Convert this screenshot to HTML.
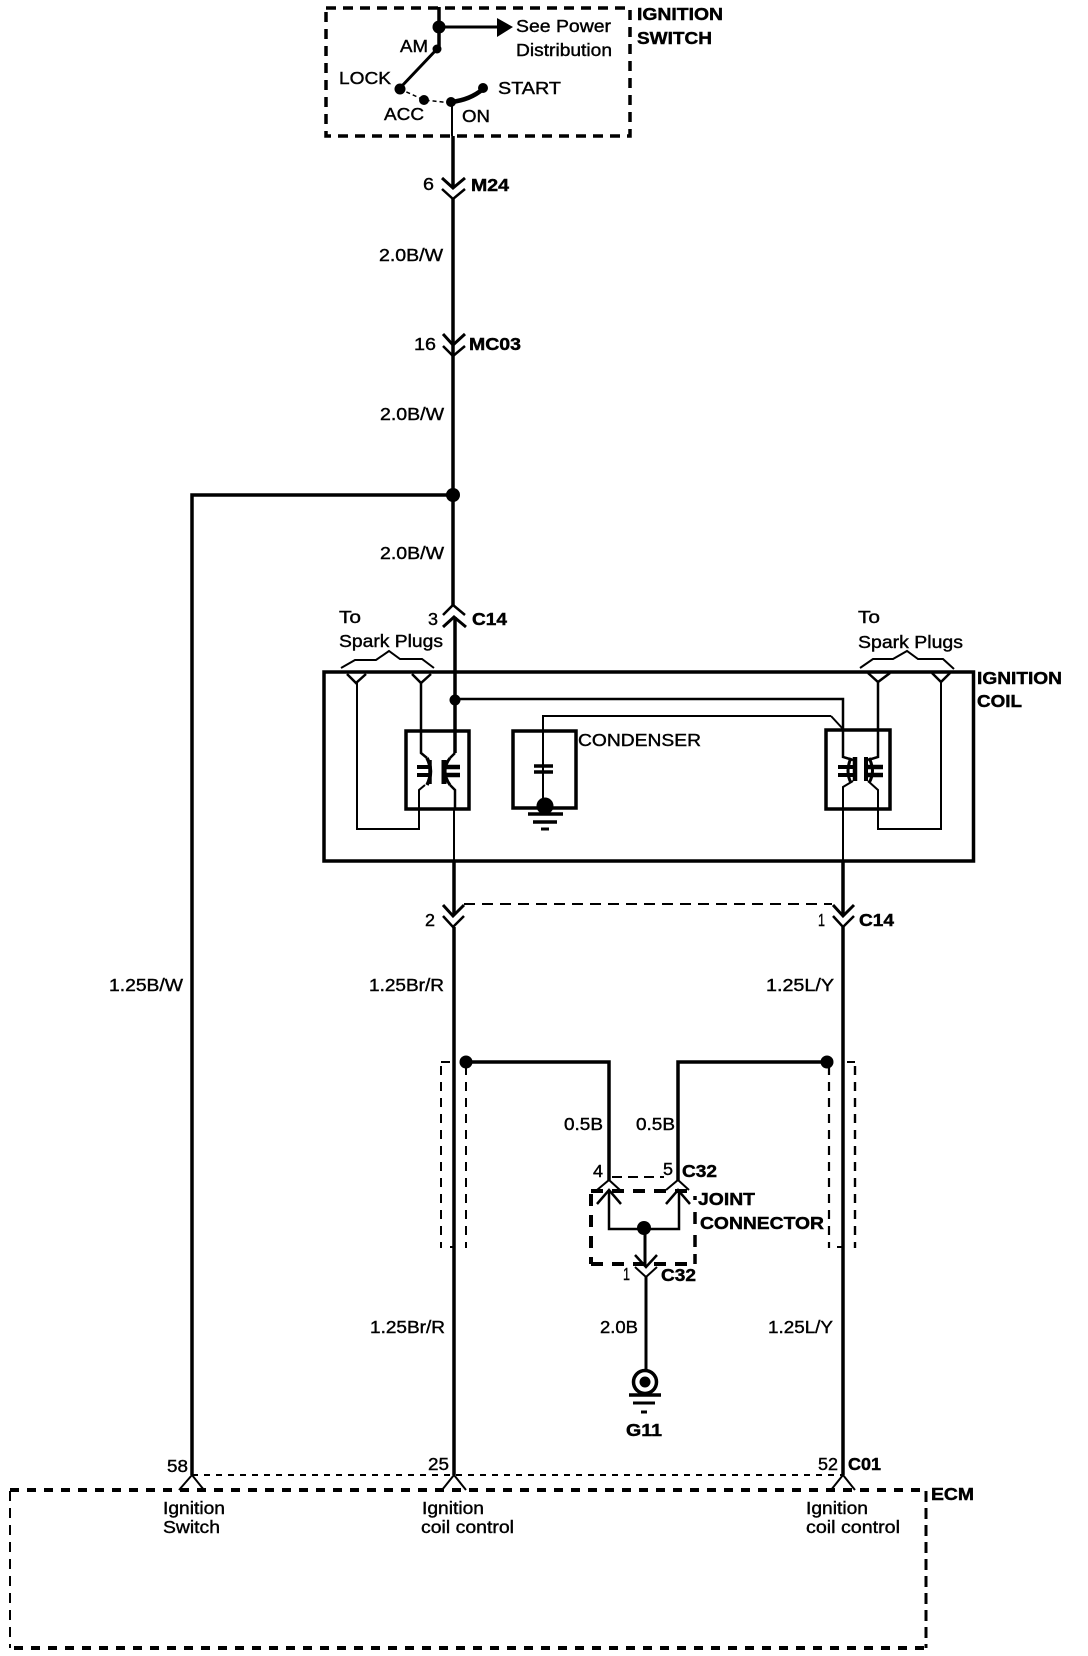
<!DOCTYPE html>
<html>
<head>
<meta charset="utf-8">
<title>Ignition circuit diagram</title>
<style>
html,body{margin:0;padding:0;background:#fff;width:1088px;height:1656px;overflow:hidden}
svg{display:block}
text{font-family:"Liberation Sans",sans-serif;font-size:17.5px;fill:#000;stroke:#000;stroke-width:.4}
text.b{font-weight:bold;stroke-width:.45}
.w{fill:none;stroke:#000;stroke-linejoin:miter}
</style>
</head>
<body>
<svg width="1088" height="1656" viewBox="0 0 1088 1656" xmlns="http://www.w3.org/2000/svg">
<rect width="1088" height="1656" fill="#fff"/>

<!-- Ignition switch box -->
<path class="w" stroke-width="3.5" stroke-dasharray="10 7" d="M326 8H630V136H326Z"/>
<path class="w" stroke-width="3.5" d="M439 7V50"/>
<circle cx="439" cy="27" r="6.5"/>
<path class="w" stroke-width="3" d="M439 27H498"/>
<path d="M497 18L513 27L497 37Z"/>
<circle cx="437" cy="49" r="4.5"/>
<path class="w" stroke-width="3" d="M437 49L400 88"/>
<circle cx="400" cy="89" r="5.5"/>
<path class="w" stroke-width="1.5" stroke-dasharray="4 3" d="M400 89L424 100L452 103"/>
<circle cx="424" cy="100" r="5"/>
<circle cx="451" cy="102" r="5"/>
<path class="w" stroke-width="4.500" d="M451 102Q470 100 483 89"/>
<circle cx="483" cy="88" r="5"/>
<path class="w" stroke-width="2" d="M452 103V136"/>
<text x="516" y="32" textLength="95" lengthAdjust="spacingAndGlyphs">See Power</text>
<text x="516" y="56" textLength="96" lengthAdjust="spacingAndGlyphs">Distribution</text>
<text x="400" y="52" textLength="28" lengthAdjust="spacingAndGlyphs">AM</text>
<text x="339" y="84" textLength="52" lengthAdjust="spacingAndGlyphs">LOCK</text>
<text x="384" y="120" textLength="40" lengthAdjust="spacingAndGlyphs">ACC</text>
<text x="498" y="94" textLength="63" lengthAdjust="spacingAndGlyphs">START</text>
<text x="462" y="122" textLength="28" lengthAdjust="spacingAndGlyphs">ON</text>
<text class="b" x="637" y="20" textLength="86" lengthAdjust="spacingAndGlyphs">IGNITION</text>
<text class="b" x="637" y="44" textLength="75" lengthAdjust="spacingAndGlyphs">SWITCH</text>

<!-- Main wire -->
<path class="w" stroke-width="3.5" d="M453 136V188"/>
<path class="w" stroke-width="3" d="M442 178L453 188L465 178"/>
<path class="w" stroke-width="2.5" d="M442 189L453 199L465 189"/>
<path class="w" stroke-width="3.5" d="M453 199V606"/>
<text x="423" y="190" textLength="11" lengthAdjust="spacingAndGlyphs">6</text>
<text class="b" x="471" y="191" textLength="38" lengthAdjust="spacingAndGlyphs">M24</text>
<text x="379" y="261" textLength="64" lengthAdjust="spacingAndGlyphs">2.0B/W</text>

<path class="w" stroke-width="3" d="M443 334L453 345L465 334"/>
<path class="w" stroke-width="2.5" d="M443 346L453 356L465 346"/>
<text x="414" y="350" textLength="22" lengthAdjust="spacingAndGlyphs">16</text>
<text class="b" x="469" y="350" textLength="52" lengthAdjust="spacingAndGlyphs">MC03</text>
<text x="380" y="420" textLength="64" lengthAdjust="spacingAndGlyphs">2.0B/W</text>

<circle cx="453" cy="495" r="7"/>
<path class="w" stroke-width="3.5" d="M453 495H192V1475"/>
<text x="380" y="559" textLength="64" lengthAdjust="spacingAndGlyphs">2.0B/W</text>

<!-- Upper C14 -->
<path class="w" stroke-width="2.5" d="M443 615L453 605L465 615"/>
<path class="w" stroke-width="3" d="M443 627L454 617L466 627"/>
<path class="w" stroke-width="3.5" d="M455 617V753"/>
<text x="428" y="625" textLength="10" lengthAdjust="spacingAndGlyphs">3</text>
<text class="b" x="472" y="625" textLength="35" lengthAdjust="spacingAndGlyphs">C14</text>

<text x="339" y="623" textLength="22" lengthAdjust="spacingAndGlyphs">To</text>
<text x="339" y="647" textLength="104" lengthAdjust="spacingAndGlyphs">Spark Plugs</text>
<path class="w" stroke-width="2" d="M341 668L355 660H376L389 651L400 659H422L434 668"/>
<text x="858" y="623" textLength="22" lengthAdjust="spacingAndGlyphs">To</text>
<text x="858" y="648" textLength="105" lengthAdjust="spacingAndGlyphs">Spark Plugs</text>
<path class="w" stroke-width="2" d="M860 668L873 659H893L907 651L918 659H943L954 669"/>

<!-- Ignition coil box -->
<rect class="w" stroke-width="3.5" x="324" y="672" width="649.500" height="189"/>
<text class="b" x="977" y="684" textLength="85" lengthAdjust="spacingAndGlyphs">IGNITION</text>
<text class="b" x="977" y="707" textLength="45" lengthAdjust="spacingAndGlyphs">COIL</text>

<!-- Left coil -->
<rect class="w" stroke-width="3.5" x="406" y="731" width="63" height="78"/>
<path class="w" stroke-width="2.500" d="M347 674L356 683L366 674"/>
<path class="w" stroke-width="2.500" d="M412 674L421 683L431 674"/>
<path class="w" stroke-width="2" d="M357 683V829H419V790L425 785"/>
<path class="w" stroke-width="2.500" d="M421 683V753L427 758"/>
<path class="w" stroke-width="3.500" d="M430 760V784"/>
<path class="w" stroke-width="5" d="M444 760V784"/>
<path class="w" stroke-width="3.500" d="M427 758Q434 771 427 785"/>
<path class="w" stroke-width="4" d="M417 767H430M417 775H430"/>
<path class="w" stroke-width="4.500" d="M443 767H460M443 775H460"/>
<path class="w" stroke-width="3" d="M450 758Q440 771 450 785"/>
<path class="w" stroke-width="2.500" d="M455 753L450 758M450 785L455 790V809"/>
<path class="w" stroke-width="2" d="M454 809V861"/>

<!-- Tap -->
<circle cx="455" cy="700" r="5.500"/>
<path class="w" stroke-width="2.500" d="M455 699H843V757L853 760"/>

<!-- Condenser -->
<rect class="w" stroke-width="3.500" x="513" y="731" width="63" height="77"/>
<path class="w" stroke-width="2" d="M831 716H543V800"/>
<path class="w" stroke-width="2" d="M831 716L843 729"/>
<path class="w" stroke-width="3.500" d="M534 766H553M534 772H553"/>
<circle cx="545" cy="806" r="8.500"/>
<path class="w" stroke-width="3.500" d="M528 814H563M533 822H557"/>
<path class="w" stroke-width="3" d="M541 829H549"/>
<text x="578" y="746" textLength="123" lengthAdjust="spacingAndGlyphs">CONDENSER</text>

<!-- Right coil -->
<rect class="w" stroke-width="3.500" x="826" y="730" width="64" height="79"/>
<path class="w" stroke-width="2.500" d="M868 673L878 682L890 673"/>
<path class="w" stroke-width="2.500" d="M932 673L941 682L950 673"/>
<path class="w" stroke-width="2.500" d="M878 682V757L868 760"/>
<path class="w" stroke-width="2" d="M941 682V829H878V790L868 781"/>
<path class="w" stroke-width="4.500" d="M855 757V781"/>
<path class="w" stroke-width="4" d="M866 757V781"/>
<path class="w" stroke-width="4" d="M838 767H855M838 775H855"/>
<path class="w" stroke-width="4.500" d="M866 767H883M866 775H883"/>
<path class="w" stroke-width="3" d="M851 758Q845 771 851 783"/>
<path class="w" stroke-width="3" d="M869 758Q876 771 869 783"/>
<path class="w" stroke-width="2" d="M853 781L843 787V860"/>

<!-- Lower C14 -->
<path class="w" stroke-width="3.500" d="M454 861V915"/>
<path class="w" stroke-width="3" d="M443 905L453 916L464 905"/>
<path class="w" stroke-width="2.500" d="M443 916L453 927L464 916"/>
<path class="w" stroke-width="3.500" d="M843 860V915"/>
<path class="w" stroke-width="3" d="M833 905L843 916L854 905"/>
<path class="w" stroke-width="2.500" d="M833 916L843 927L854 916"/>
<path class="w" stroke-width="2" stroke-dasharray="11 7" d="M464 904H832"/>
<text x="425" y="926" textLength="10" lengthAdjust="spacingAndGlyphs">2</text>
<text x="818" y="926" textLength="7" lengthAdjust="spacingAndGlyphs">1</text>
<text class="b" x="859" y="926" textLength="35" lengthAdjust="spacingAndGlyphs">C14</text>

<!-- Long wires -->
<path class="w" stroke-width="3.500" d="M454 927V1475"/>
<path class="w" stroke-width="3.500" d="M843 927V1475"/>
<text x="109" y="991" textLength="74" lengthAdjust="spacingAndGlyphs">1.25B/W</text>
<text x="369" y="991" textLength="75" lengthAdjust="spacingAndGlyphs">1.25Br/R</text>
<text x="766" y="991" textLength="68" lengthAdjust="spacingAndGlyphs">1.25L/Y</text>
<text x="370" y="1333" textLength="75" lengthAdjust="spacingAndGlyphs">1.25Br/R</text>
<text x="768" y="1333" textLength="65" lengthAdjust="spacingAndGlyphs">1.25L/Y</text>

<!-- Shields -->
<path class="w" stroke-width="2" stroke-dasharray="9 7" d="M441 1066V1248"/>
<path class="w" stroke-width="2" stroke-dasharray="9 7" d="M466 1066V1248"/>
<path class="w" stroke-width="2" d="M441 1062H450M450 1247H454"/>
<path class="w" stroke-width="2.200" stroke-dasharray="9 7" d="M829 1066V1248"/>
<path class="w" stroke-width="2.400" stroke-dasharray="9 7" d="M855 1066V1248"/>
<path class="w" stroke-width="2" d="M847 1062H855M837 1247H842"/>

<!-- Joint connector wiring -->
<circle cx="466" cy="1062" r="6.500"/>
<circle cx="827" cy="1062" r="6.500"/>
<path class="w" stroke-width="3.500" d="M466 1062H609V1180"/>
<path class="w" stroke-width="3.500" d="M827 1062H678V1180"/>
<text x="564" y="1130" textLength="39" lengthAdjust="spacingAndGlyphs">0.5B</text>
<text x="636" y="1130" textLength="39" lengthAdjust="spacingAndGlyphs">0.5B</text>
<text x="593" y="1177" textLength="10" lengthAdjust="spacingAndGlyphs">4</text>
<text x="663" y="1175" textLength="10" lengthAdjust="spacingAndGlyphs">5</text>
<text class="b" x="682" y="1177" textLength="35" lengthAdjust="spacingAndGlyphs">C32</text>
<path class="w" stroke-width="2" stroke-dasharray="10 6" d="M612 1177H664"/>
<path class="w" stroke-width="2" d="M597 1190L609 1180L620 1190"/>
<path class="w" stroke-width="2.500" d="M597 1204L609 1190L621 1204"/>
<path class="w" stroke-width="2" d="M666 1190L678 1180L689 1190"/>
<path class="w" stroke-width="2.500" d="M666 1204L678 1190L690 1204"/>
<path class="w" stroke-width="2.500" d="M609 1190V1229H679V1190"/>
<path class="w" stroke-width="4" stroke-dasharray="12 9" d="M591 1191H695"/>
<path class="w" stroke-width="4" stroke-dasharray="12 9" d="M591 1264H690"/>
<path class="w" stroke-width="4" stroke-dasharray="12 9" d="M591 1194V1264"/>
<path class="w" stroke-width="3.500" d="M695 1196V1200M695 1212V1224M695 1235V1247M695 1254V1264"/>
<circle cx="644" cy="1228" r="7"/>
<path class="w" stroke-width="3" d="M645 1228V1266"/>
<path class="w" stroke-width="2.500" d="M635 1255L646 1267L657 1255"/>
<path class="w" stroke-width="2" d="M635 1267L646 1277L657 1267"/>
<path class="w" stroke-width="3" d="M646 1277V1370"/>
<text class="b" x="698" y="1205" textLength="57" lengthAdjust="spacingAndGlyphs">JOINT</text>
<text class="b" x="700" y="1229" textLength="124" lengthAdjust="spacingAndGlyphs">CONNECTOR</text>
<text x="623" y="1280" textLength="7" lengthAdjust="spacingAndGlyphs">1</text>
<text class="b" x="661" y="1281" textLength="35" lengthAdjust="spacingAndGlyphs">C32</text>
<text x="600" y="1333" textLength="38" lengthAdjust="spacingAndGlyphs">2.0B</text>

<!-- Ground G11 -->
<circle class="w" cx="645" cy="1382" r="11.500" stroke-width="3.500"/>
<circle cx="645" cy="1382" r="5.500"/>
<path class="w" stroke-width="3.500" d="M629 1395H661"/>
<path class="w" stroke-width="3" d="M633 1403H655"/>
<path class="w" stroke-width="3" d="M641 1412H647"/>
<text class="b" x="626" y="1436" textLength="36" lengthAdjust="spacingAndGlyphs">G11</text>

<!-- ECM pins -->
<text x="167" y="1472" textLength="21" lengthAdjust="spacingAndGlyphs">58</text>
<text x="428" y="1470" textLength="21" lengthAdjust="spacingAndGlyphs">25</text>
<text x="818" y="1470" textLength="20" lengthAdjust="spacingAndGlyphs">52</text>
<text class="b" x="848" y="1470" textLength="33" lengthAdjust="spacingAndGlyphs">C01</text>
<path class="w" stroke-width="2" stroke-dasharray="6 6" d="M192 1475H843"/>
<path class="w" stroke-width="2" d="M179 1490L192 1475L204 1490"/>
<path class="w" stroke-width="2" d="M442 1490L454 1475L466 1490"/>
<path class="w" stroke-width="2" d="M831 1490L843 1475L855 1490"/>

<!-- ECM box -->
<path class="w" stroke-width="4" stroke-dasharray="9 8" d="M10 1490H926"/>
<path class="w" stroke-width="4" stroke-dasharray="9 8" d="M14 1648H926"/>
<path class="w" stroke-width="2" stroke-dasharray="10 7" d="M10 1491V1648"/>
<path class="w" stroke-width="3" stroke-dasharray="11 6" d="M926 1491V1648"/>
<text class="b" x="931" y="1500" textLength="43" lengthAdjust="spacingAndGlyphs">ECM</text>
<text x="163" y="1514" textLength="62" lengthAdjust="spacingAndGlyphs">Ignition</text>
<text x="163" y="1533" textLength="57" lengthAdjust="spacingAndGlyphs">Switch</text>
<text x="422" y="1514" textLength="62" lengthAdjust="spacingAndGlyphs">Ignition</text>
<text x="421" y="1533" textLength="93" lengthAdjust="spacingAndGlyphs">coil control</text>
<text x="806" y="1514" textLength="62" lengthAdjust="spacingAndGlyphs">Ignition</text>
<text x="806" y="1533" textLength="94" lengthAdjust="spacingAndGlyphs">coil control</text>
</svg>
</body>
</html>
